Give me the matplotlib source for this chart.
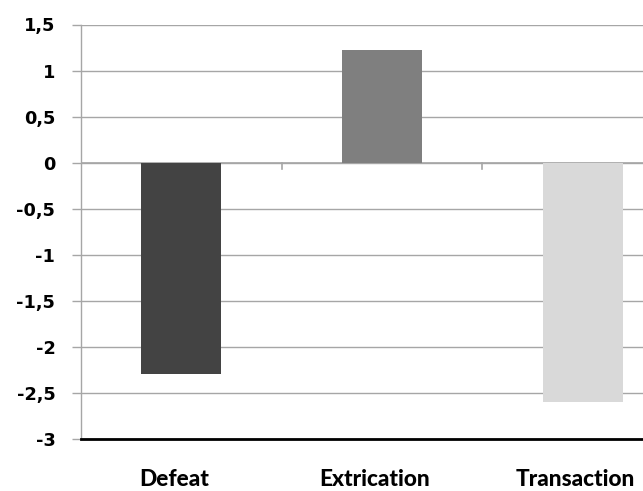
import matplotlib
matplotlib.use("Agg")
import matplotlib.pyplot as plt
from matplotlib.transforms import blended_transform_factory

categories = ["Defeat", "Extrication", "Transaction"]
values = [-2.29, 1.22, -2.60]
bar_colors = ["#434343", "#7f7f7f", "#d9d9d9"]
y_ticks = [1.5, 1, 0.5, 0, -0.5, -1, -1.5, -2, -2.5, -3]
y_tick_labels = ["1,5", "1", "0,5", "0", "-0,5", "-1", "-1,5", "-2", "-2,5", "-3"]

W, H = 643, 491
fig = plt.figure(figsize=(W / 100, H / 100), dpi=100)
left, right, top, bottom = 81, 643, 24.5, 439
ax = fig.add_axes([left / W, 1 - bottom / H, (right - left) / W, (bottom - top) / H])

x = list(range(len(categories)))
ax.bar(x, values, width=0.4, color=bar_colors, zorder=3)

ax.set_ylim(-3, 1.5)
ax.set_xlim(-0.5, 2.5 - 40 / 200.7)
ax.set_yticks(y_ticks)
ax.set_yticklabels(y_tick_labels, fontsize=12.8, fontweight="bold",
                   family=["DejaVu Sans"])
ax.yaxis.grid(True, color="#a6a6a6", linewidth=1.0, zorder=0)
ax.set_axisbelow(True)

ax.tick_params(axis="y", length=6.5, width=1, color="#a6a6a6", pad=12)
ax.set_xticks([])

# category names under the axis
trans = blended_transform_factory(ax.transData, fig.transFigure)
for xi, name in zip(x, categories):
    ax.text(xi - 0.035, 1 - 486 / H, name, transform=trans, ha="center",
            va="baseline", fontsize=16.3, fontweight="black",
            family=["Lato", "DejaVu Sans"], clip_on=False)

for side in ["top", "right"]:
    ax.spines[side].set_visible(False)
ax.spines["left"].set_color("#a6a6a6")
ax.spines["left"].set_linewidth(1.0)
ax.spines["bottom"].set_color("black")
ax.spines["bottom"].set_linewidth(2.0)

# zero line with small category-boundary ticks
ax.axhline(0, color="#a6a6a6", linewidth=1.2, zorder=2)
for b in [0.5, 1.5]:
    ax.plot([b, b], [0, -0.07], color="#a6a6a6", linewidth=1.2, zorder=2)

fig.savefig("out.png", dpi=100)
